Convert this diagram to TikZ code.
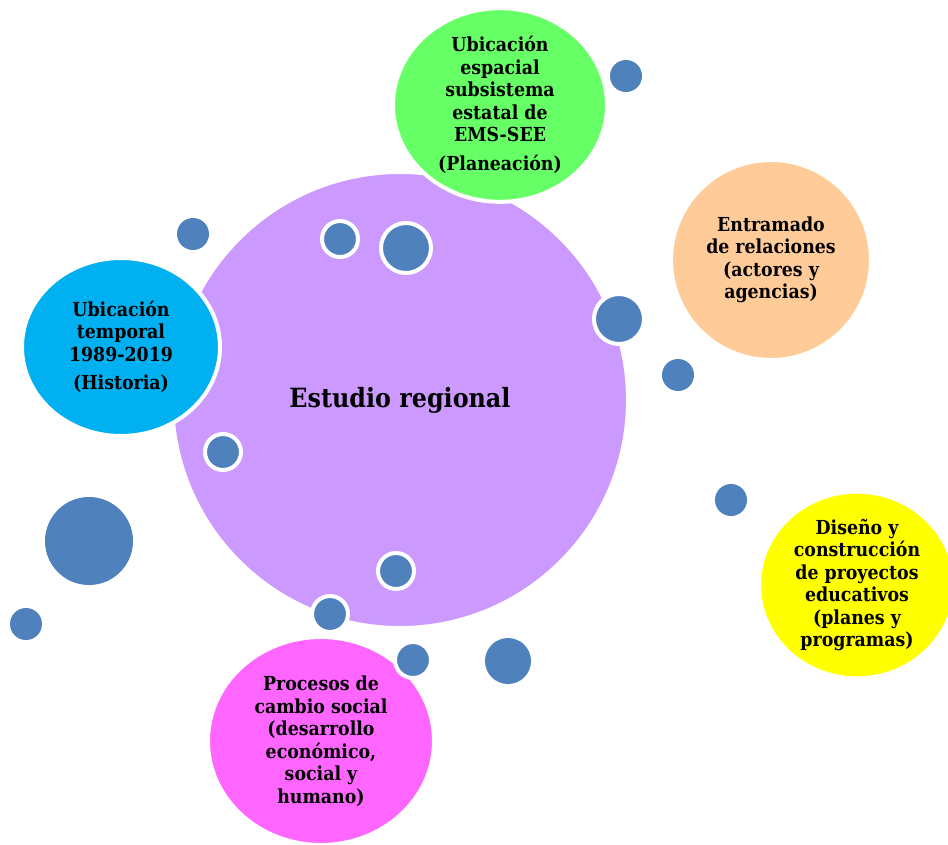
\documentclass[tikz,border=0pt]{standalone}
\usepackage{fontspec}
\setmainfont{DejaVu Serif Condensed}
\usetikzlibrary{shapes.geometric}
\definecolor{purp}{HTML}{CC99FF}
\definecolor{lgreen}{HTML}{66FF66}
\definecolor{peach}{HTML}{FFCC99}
\definecolor{sky}{HTML}{00B0F0}
\definecolor{yel}{HTML}{FFFF00}
\definecolor{pink}{HTML}{FF66FF}
\definecolor{dot}{HTML}{4F81BD}
\tikzset{
  bubble/.style={ellipse, draw=white, line width=4pt, inner sep=0pt, align=center,
    font=\bfseries\fontsize{19.3}{22.5}\selectfont},
  dotc/.style={circle, fill=dot, inner sep=0pt},
  ringed/.style={dotc, draw=white, line width=4pt},
}
\begin{document}
\begin{tikzpicture}[x=1pt,y=-1pt]
\useasboundingbox (0,0) rectangle (948,844);
% main circle
\node[bubble, circle, fill=purp, minimum size=456pt, font=\bfseries\fontsize{26.5}{30}\selectfont] (main) at (400,400) {Estudio regional};
% satellite topics
\node[bubble, fill=lgreen, minimum width=214pt, minimum height=192pt] (esp) at (500,105)
  {Ubicación\\espacial\\subsistema\\estatal de\\EMS-SEE\\[6pt](Planeación)};
\node[bubble, circle, fill=peach, minimum size=200pt] (rel) at (771,260)
  {Entramado\\de relaciones\\(actores y\\agencias)};
\node[bubble, fill=sky, minimum width=198pt, minimum height=178pt] (tem) at (121,347)
  {Ubicación\\temporal\\1989-2019\\[6pt](Historia)};
\node[bubble, fill=yel, minimum width=196pt, minimum height=172pt] (dis) at (857,585)
  {Diseño y\\construcción\\de proyectos\\educativos\\(planes y\\programas)};
\node[bubble, fill=pink, minimum width=226pt, minimum height=208pt] (pro) at (321,741)
  {Procesos de\\cambio social\\(desarrollo\\económico,\\social y\\humano)};
% decorative dots
\node[dotc, minimum size=32pt] (d1) at (626,76) {};
\node[dotc, minimum size=32pt] (d2) at (193,234) {};
\node[ringed, minimum size=36pt] (d3) at (340,239) {};
\node[ringed, minimum size=50pt] (d4) at (406,248) {};
\node[ringed, minimum size=50pt] (d5) at (619,319) {};
\node[dotc, minimum size=32pt] (d6) at (678,375) {};
\node[ringed, minimum size=36pt] (d7) at (223,452) {};
\node[dotc, minimum size=32pt] (d8) at (731,500) {};
\node[dotc, minimum size=88pt] (d9) at (89,541) {};
\node[dotc, minimum size=32pt] (d10) at (26,624) {};
\node[ringed, minimum size=36pt] (d11) at (396,571) {};
\node[ringed, minimum size=36pt] (d12) at (330,614) {};
\node[ringed, minimum size=36pt] (d13) at (413,660) {};
\node[dotc, minimum size=46pt] (d14) at (508,661) {};
\end{tikzpicture}
\end{document}
